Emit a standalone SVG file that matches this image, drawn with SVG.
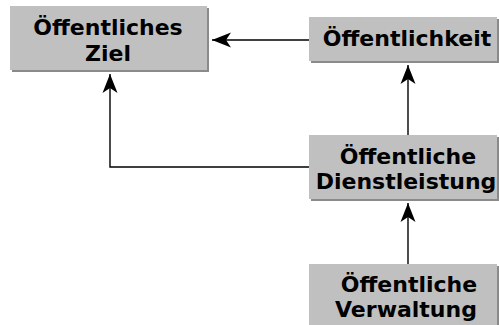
<svg xmlns="http://www.w3.org/2000/svg" width="499" height="325" viewBox="0 0 499 325">
<style>
.sh{fill:#8a8a8a}
.bx{fill:#c0c0c0}
.t{font-family:"DejaVu Sans",sans-serif;font-weight:bold;font-size:22px;fill:#000;text-anchor:middle}
.c{fill:none;stroke:#000;stroke-width:1.4}
</style>
<defs>
<marker id="ah" markerUnits="userSpaceOnUse" viewBox="-20 -8 21 16" refX="0" refY="0" markerWidth="21" markerHeight="16" orient="auto" overflow="visible">
<path d="M0,0 L-19,-7.5 L-14,0 L-19,7.5 Z" fill="#000"/>
</marker>
</defs>
<rect width="499" height="325" fill="#fff"/>
<g id="connectors">
<path class="c" d="M309,40 L212,40" marker-end="url(#ah)"/>
<path class="c" d="M408,135 L408,65" marker-end="url(#ah)"/>
<path class="c" d="M309,167 L110,167 L110,74" marker-end="url(#ah)"/>
<path class="c" d="M408,264 L408,203" marker-end="url(#ah)"/>
</g>
<g id="ziel">
<rect class="sh" x="12" y="8" width="197" height="64"/>
<rect class="bx" x="10" y="6" width="197" height="64"/>
<text class="t" x="108" y="35">Öffentliches</text>
<text class="t" x="108" y="61">Ziel</text>
</g>
<g id="oeffentlichkeit">
<rect class="sh" x="311" y="19" width="188" height="44"/>
<rect class="bx" x="309" y="17" width="188" height="44"/>
<text class="t" x="407" y="46">Öffentlichkeit</text>
</g>
<g id="dienstleistung">
<rect class="sh" x="311" y="137" width="188" height="64"/>
<rect class="bx" x="309" y="135" width="188" height="64"/>
<text class="t" x="408" y="164">Öffentliche</text>
<text class="t" x="406" y="189">Dienstleistung</text>
</g>
<g id="verwaltung">
<rect class="sh" x="311" y="266" width="188" height="64"/>
<rect class="bx" x="309" y="264" width="188" height="64"/>
<text class="t" x="409" y="292">Öffentliche</text>
<text class="t" x="406" y="317">Verwaltung</text>
</g>
</svg>
